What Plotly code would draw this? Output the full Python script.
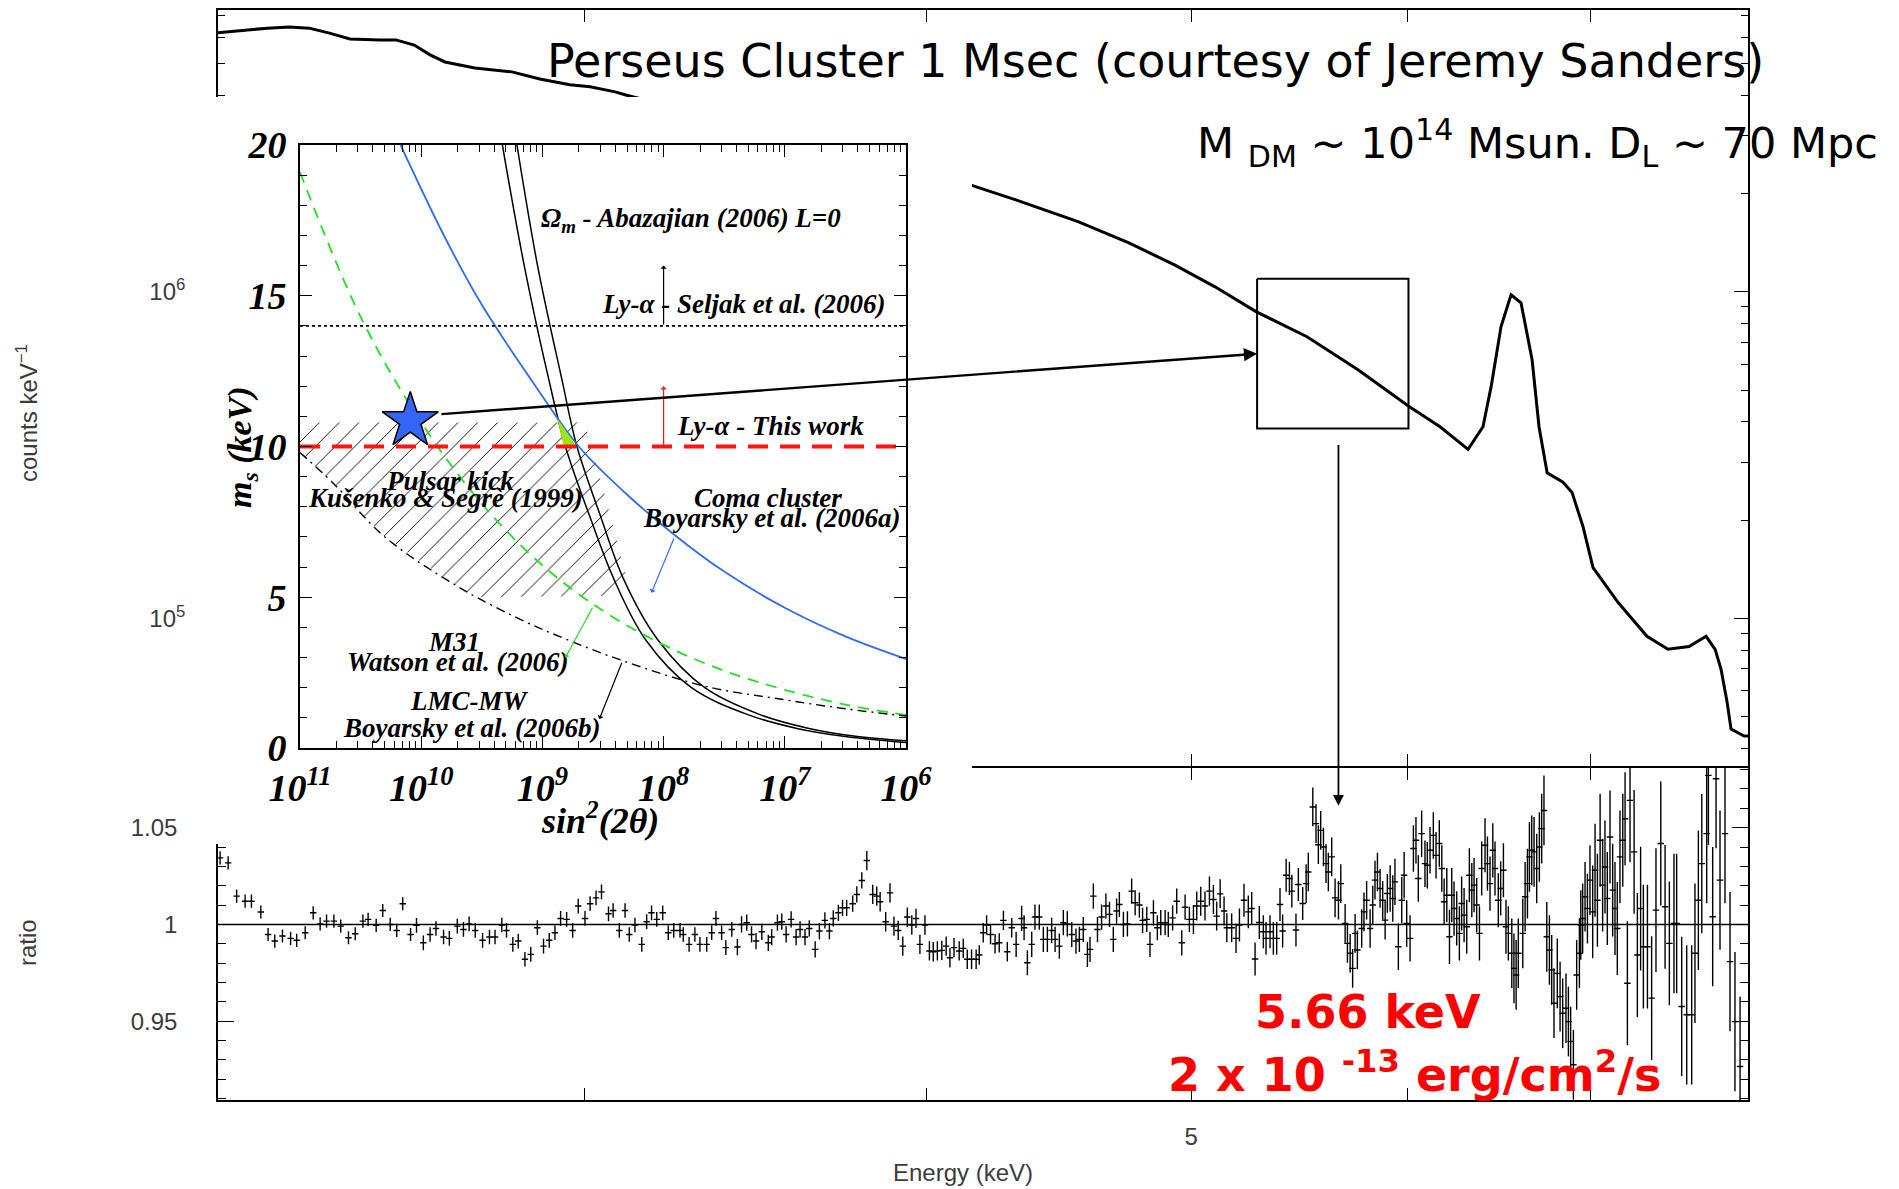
import math
import plotly.graph_objects as go

W, H = 1899, 1189

# ---------------- panel geometry (pixels) ----------------
SPEC_L, SPEC_R, SPEC_T, SPEC_B = 218, 1748, 10, 766.2
RAT_T, RAT_B = 767.8, 1100
INS_L, INS_R, INS_T, INS_B = 300, 906, 145, 748
COV_L, COV_R, COV_T, COV_B = 212, 972, 97, 844
COV_NOTCH_X, COV_NOTCH_Y = 936, 760   # the backing is narrower below this height

E_RANGE = (2.2021, 7.9923)          # keV
C_RANGE = (10 ** 4.5474, 10 ** 6.8624)  # counts keV^-1
R_RANGE = (0.90928, 1.08093)        # data / model
S_RANGE = (1e-11, 1e-6)             # sin^2(2 theta)
M_RANGE = (0.0, 20.0)               # m_s [keV]

# ---------------- spectrum: counts keV^-1 ----------------
spec_lo_e = [2.193, 2.234, 2.296, 2.338, 2.378, 2.419, 2.461, 2.524, 2.558, 2.598,
             2.633, 2.666, 2.734, 2.821, 2.888, 2.962, 3.013, 3.077, 3.105, 3.20]
spec_lo_c = [6.19e6, 6.28e6, 6.41e6, 6.46e6, 6.41e6, 6.19e6, 5.94e6, 5.90e6, 5.90e6, 5.69e6,
             5.31e6, 5.05e6, 4.84e6, 4.71e6, 4.48e6, 4.30e6, 4.24e6, 4.09e6, 4.00e6, 3.75e6]
spec_hi_e = [4.08, 4.153, 4.313, 4.545, 4.744, 4.928, 5.101, 5.280, 5.512, 5.754,
             6.007, 6.166, 6.313, 6.393, 6.437, 6.491, 6.546, 6.601, 6.663, 6.702,
             6.748, 6.839, 6.891, 6.955, 7.014, 7.163, 7.340, 7.471, 7.605, 7.715,
             7.774, 7.813, 7.852, 7.879, 7.966, 8.0]
spec_hi_c = [2.2e6, 2.12e6, 1.91e6, 1.64e6, 1.41e6, 1.21e6, 1.035e6, 8.69e5, 7.28e5, 5.77e5,
             4.45e5, 3.86e5, 3.29e5, 3.86e5, 5.12e5, 7.82e5, 9.79e5, 9.25e5, 6.19e5, 3.86e5,
             2.79e5, 2.61e5, 2.43e5, 1.91e5, 1.43e5, 1.12e5, 8.81e4, 8.04e4, 8.20e4, 8.81e4,
             8.04e4, 6.98e4, 5.57e4, 4.58e4, 4.36e4, 4.36e4]

# zoom window on the spectrum (keV, counts keV^-1)
box_e = (5.285, 6.004)
box_c = (3.81e5, 1.096e6)
line_e = 5.66  # keV, candidate line energy

# ---------------- ratio (data/model) ----------------
ratio_points = [
    (2.206, 1.0344), (2.221, 1.0318), (2.237, 1.0146), (2.253, 1.0120), (2.265, 1.0120),
    (2.283, 1.0064), (2.297, 0.9948), (2.310, 0.9914), (2.325, 0.9940), (2.341, 0.9928),
    (2.353, 0.9918), (2.370, 0.9957), (2.386, 1.0060), (2.400, 1.0003), (2.413, 1.0017),
    (2.428, 1.0017), (2.442, 0.9991), (2.458, 0.9931), (2.472, 0.9952), (2.488, 1.0017),
    (2.499, 1.0026), (2.516, 0.9995), (2.530, 1.0072), (2.546, 1.0000), (2.560, 0.9969),
    (2.573, 1.0107), (2.590, 0.9948), (2.603, 0.9995), (2.618, 0.9905), (2.633, 0.9948),
    (2.646, 0.9979), (2.663, 0.9935), (2.676, 0.9928), (2.694, 0.9991), (2.708, 0.9974),
    (2.721, 1.0003), (2.735, 0.9969), (2.752, 0.9918), (2.768, 0.9935), (2.781, 0.9935),
    (2.797, 0.9997), (2.808, 0.9969), (2.823, 0.9897), (2.836, 0.9914), (2.852, 0.9820),
    (2.866, 0.9845), (2.882, 0.9983), (2.897, 0.9888), (2.911, 0.9918), (2.925, 0.9957),
    (2.939, 1.0031), (2.954, 1.0026), (2.969, 0.9969), (2.983, 1.0095), (3.000, 1.0031),
    (3.013, 1.0107), (3.028, 1.0137), (3.042, 1.0168), (3.060, 1.0055), (3.072, 1.0072),
    (3.088, 0.9969), (3.103, 1.0072), (3.114, 0.9948), (3.129, 0.9997), (3.147, 0.9897),
    (3.160, 1.0014), (3.173, 1.0060), (3.187, 1.0026), (3.203, 1.0060), (3.218, 0.9957),
    (3.233, 0.9969), (3.250, 0.9969), (3.259, 0.9948), (3.275, 0.9897), (3.291, 0.9948),
    (3.305, 0.9897), (3.324, 0.9897), (3.338, 0.9957), (3.350, 1.0031), (3.366, 0.9957),
    (3.378, 0.9880),
    (3.395, 0.9974), (3.411, 0.9883), (3.423, 1.0000), (3.438, 1.0009), (3.452, 0.9948),
    (3.465, 0.9914), (3.482, 0.9962), (3.501, 0.9905), (3.511, 0.9935), (3.528, 1.0009),
    (3.541, 1.0014), (3.554, 0.9948), (3.569, 1.0026), (3.584, 0.9935), (3.596, 0.9974),
    (3.611, 0.9935), (3.624, 0.9979), (3.642, 0.9871), (3.655, 0.9966), (3.672, 1.0021),
    (3.686, 0.9966), (3.698, 1.0031), (3.714, 1.0060), (3.727, 1.0086), (3.740, 1.0086),
    (3.759, 1.0107), (3.772, 1.0155), (3.788, 1.0227), (3.804, 1.0330), (3.823, 1.0155),
    (3.836, 1.0146), (3.847, 1.0117), (3.865, 1.0014), (3.879, 1.0163), (3.892, 0.9991),
    (3.906, 0.9969), (3.921, 0.9888), (3.936, 1.0038), (3.951, 0.9997), (3.965, 1.0031),
    (3.978, 0.9897), (3.995, 0.9997), (4.010, 0.9863), (4.023, 0.9859), (4.037, 0.9863),
    (4.052, 0.9866), (4.067, 0.9888), (4.080, 0.9828), (4.094, 0.9880), (4.112, 0.9863),
    (4.126, 0.9876), (4.140, 0.9820), (4.155, 0.9820), (4.171, 0.9820), (4.182, 0.9842),
    (4.196, 0.9957), (4.208, 0.9997), (4.222, 0.9948), (4.238, 0.9900), (4.253, 0.9905),
    (4.268, 1.0021), (4.282, 0.9859), (4.298, 0.9983), (4.314, 0.9897), (4.334, 1.0031),
    (4.343, 0.9983), (4.355, 0.9802), (4.371, 0.9897), (4.383, 1.0038), (4.399, 1.0038),
    (4.414, 0.9923), (4.429, 0.9923), (4.445, 0.9969), (4.458, 0.9923), (4.474, 0.9888),
    (4.489, 1.0009), (4.504, 1.0003), (4.521, 0.9948), (4.537, 0.9914), (4.550, 0.9923),
    (4.565, 0.9974), (4.581, 0.9845), (4.591, 0.9871), (4.604, 1.0146), (4.620, 0.9974),
    (4.636, 1.0038), (4.653, 1.0095), (4.667, 1.0052), (4.682, 0.9923), (4.695, 1.0069),
    (4.706, 1.0103), (4.722, 1.0000), (4.738, 1.0003), (4.755, 1.0172), (4.769, 1.0112),
    (4.786, 1.0100), (4.799, 1.0021), (4.816, 1.0026), (4.829, 0.9897), (4.843, 1.0060),
    (4.859, 0.9983), (4.873, 1.0009), (4.891, 1.0009), (4.904, 1.0000), (4.922, 1.0034),
    (4.939, 1.0120), (4.960, 0.9905), (4.974, 1.0089), (4.992, 1.0026), (5.009, 1.0026),
    (5.023, 1.0095), (5.040, 1.0120), (5.058, 1.0095), (5.077, 1.0172), (5.094, 1.0129),
    (5.108, 1.0043), (5.123, 1.0158), (5.140, 1.0069), (5.152, 0.9983),
    (5.173, 0.9983), (5.192, 0.9928), (5.207, 0.9997), (5.227, 1.0125), (5.246, 1.0065),
    (5.261, 1.0082), (5.276, 0.9821), (5.295, 1.0010), (5.313, 0.9962), (5.325, 0.9928),
    (5.343, 0.9962), (5.358, 0.9928), (5.373, 0.9928), (5.388, 1.0103), (5.400, 0.9966),
    (5.416, 1.0254), (5.431, 1.0237), (5.442, 1.0172), (5.461, 0.9971), (5.472, 1.0206),
    (5.492, 1.0108), (5.508, 1.0211), (5.518, 1.0271), (5.539, 1.0607), (5.554, 1.0521),
    (5.565, 1.0412), (5.576, 1.0486), (5.589, 1.0400), (5.601, 1.0314), (5.612, 1.0271),
    (5.628, 1.0349), (5.644, 1.0137), (5.660, 1.0125), (5.671, 1.0211), (5.692, 1.0005),
    (5.703, 0.9902), (5.716, 0.9851), (5.728, 0.9773), (5.740, 0.9954), (5.751, 0.9868),
    (5.772, 0.9979), (5.783, 1.0065), (5.796, 1.0125), (5.813, 0.9979), (5.826, 1.0100),
    (5.837, 1.0229), (5.849, 1.0271), (5.862, 1.0186), (5.875, 1.0125), (5.887, 1.0022),
    (5.898, 1.0160), (5.912, 1.0186), (5.925, 1.0134), (5.936, 1.0220), (5.953, 0.9885),
    (5.970, 1.0125), (5.982, 1.0254), (5.995, 1.0005), (6.012, 0.9928), (6.029, 1.0392),
    (6.042, 1.0435), (6.054, 1.0237), (6.071, 1.0469), (6.088, 1.0314), (6.100, 1.0306),
    (6.114, 1.0383), (6.131, 1.0460), (6.145, 1.0357), (6.162, 1.0418), (6.175, 1.0289),
    (6.187, 1.0117), (6.201, 1.0151), (6.215, 0.9936), (6.227, 1.0151), (6.239, 1.0082),
    (6.253, 1.0031), (6.267, 0.9954), (6.279, 1.0108), (6.292, 1.0048), (6.306, 0.9988),
    (6.320, 1.0254), (6.333, 1.0177), (6.345, 1.0203), (6.359, 1.0100), (6.374, 0.9954),
    (6.386, 1.0289), (6.404, 1.0409), (6.417, 1.0314), (6.431, 1.0211), (6.446, 1.0383),
    (6.458, 1.0289), (6.476, 1.0125), (6.489, 1.0186), (6.504, 1.0280), (6.518, 0.9988),
    (6.531, 0.9954), (6.550, 0.9851), (6.562, 0.9773), (6.574, 0.9739), (6.586, 0.9851),
    (6.611, 0.9954), (6.624, 1.0143), (6.637, 1.0211), (6.648, 1.0349), (6.661, 1.0383),
    (6.674, 1.0375), (6.689, 1.0289), (6.704, 1.0400), (6.717, 1.0495), (6.730, 1.0589),
    (6.746, 0.9936), (6.761, 0.9868), (6.774, 0.9765), (6.787, 0.9593), (6.806, 0.9747),
    (6.822, 0.9627), (6.837, 0.9541), (6.856, 0.9567), (6.870, 0.9498), (6.883, 0.9395),
    (6.899, 0.9275), (6.918, 0.9739), (6.934, 0.9851), (6.942, 0.9997), (6.953, 1.0031),
    (6.967, 1.0143), (6.981, 1.0082), (6.996, 1.0229), (7.012, 1.0065), (7.026, 1.0280),
    (7.040, 1.0125), (7.056, 1.0435), (7.071, 1.0203), (7.085, 1.0297), (7.099, 1.0134),
    (7.115, 1.0452), (7.131, 1.0177), (7.145, 1.0082), (7.159, 0.9979), (7.175, 1.0349),
    (7.192, 1.0435), (7.206, 1.0546), (7.220, 0.9696), (7.236, 1.0641), (7.261, 1.0375),
    (7.281, 0.9842), (7.301, 1.0082), (7.318, 0.9885), (7.343, 0.9885), (7.369, 0.9619),
    (7.396, 1.0074), (7.426, 1.0418), (7.453, 1.0091), (7.480, 0.9902), (7.509, 1.0005),
    (7.526, 1.0005), (7.558, 0.9576), (7.590, 0.9533), (7.622, 0.9533), (7.643, 0.9851),
    (7.665, 1.0125), (7.687, 1.0314), (7.719, 1.0469), (7.730, 1.0770), (7.758, 1.0040),
    (7.780, 1.0753), (7.806, 1.0229), (7.839, 1.0469), (7.872, 0.9808), (7.905, 0.9498),
    (7.939, 0.9266),
]
# half-height of the ratio error bars per energy band (band lower edges in keV)
err_band_e = [2.2, 2.6, 3.4, 3.8, 4.3, 5.0, 5.2, 5.5, 5.9, 6.2, 6.55, 7.0, 7.22, 7.5]
err_band_half = [0.0034, 0.0038, 0.0042, 0.005, 0.0065, 0.0075, 0.0085, 0.010, 0.012,
                 0.014, 0.018, 0.024, 0.032, 0.036]

# ---------------- inset: sterile neutrino constraints ----------------
# curves given as (log10 sin^2(2theta), m_s [keV])
coma_logs = [-10.17, -9.8, -9.5, -9.09, -8.70, -8.3, -7.92, -7.5, -7.0, -6.5, -6.0]
coma_m = [20.0, 16.9, 14.7, 12.2, 10.0, 8.4, 7.1, 5.85, 4.65, 3.7, 2.95]
m31_logs = [-11.0, -10.5, -10.0, -9.5, -9.0, -8.5, -8.0, -7.5, -7.0, -6.5, -6.0]
m31_m = [19.1, 14.3, 10.8, 8.1, 6.06, 4.55, 3.42, 2.56, 1.93, 1.44, 1.09]
lmc_logs = [-11.0, -10.73, -10.3, -9.7, -9.2, -8.8, -8.34, -7.66, -7.0, -6.5, -6.0]
lmc_m = [9.8, 8.8, 7.0, 5.36, 4.3, 3.6, 2.9, 2.05, 1.6, 1.3, 1.06]
omega_a_logs = [-9.33, -9.15, -8.946, -8.81, -8.62, -8.41, -8.15, -7.77, -7.3, -6.9, -6.5, -6.0]
omega_a_m = [20.0, 16.0, 12.2, 10.0, 7.8, 5.6, 3.6, 2.0, 1.1, 0.65, 0.38, 0.18]
omega_b_logs = [-9.21, -9.04, -8.838, -8.715, -8.53, -8.33, -8.05, -7.66, -7.2, -6.8, -6.4, -6.0]
omega_b_m = [20.0, 16.0, 12.2, 10.0, 7.8, 5.6, 3.6, 2.0, 1.1, 0.65, 0.38, 0.24]
lya_seljak_m = 14.0
lya_this_m = 10.0
pulsar_logs = [-11.0, -8.65, -8.52, -8.41, -8.30, -8.35, -9.55, -9.7, -10.3, -10.73, -11.0]
pulsar_m = [10.8, 10.8, 8.9, 7.24, 5.6, 5.05, 5.0, 5.36, 7.0, 8.8, 9.8]
allowed_logs = [-8.877, -8.717, -8.822]
allowed_m = [10.93, 10.0, 10.0]
star_logs, star_m = -10.09, 10.85

s_tick_exp = [-11, -10, -9, -8, -7, -6]
m_ticks = [0, 5, 10, 15, 20]


# ---------------- helpers ----------------
def xdom(l, r):
    return [l / W, r / W]


def ydom(t, b):
    return [1 - b / H, 1 - t / H]


def log_px(v, lo, hi, p0, p1):
    return p0 + (math.log10(v) - math.log10(lo)) / (math.log10(hi) - math.log10(lo)) * (p1 - p0)


def lin_px(v, lo, hi, p0, p1):
    return p0 + (v - lo) / (hi - lo) * (p1 - p0)


def spec_px(e, c):
    return log_px(e, *E_RANGE, SPEC_L, SPEC_R), log_px(c, *C_RANGE, SPEC_B, SPEC_T)


def ratio_px(e, r):
    return log_px(e, *E_RANGE, SPEC_L, SPEC_R), lin_px(r, *R_RANGE, RAT_B, RAT_T)


def inset_px(s, m):
    return log_px(s, *S_RANGE, INS_L, INS_R), lin_px(m, *M_RANGE, INS_B, INS_T)


def err_for(e):
    half = err_band_half[0]
    for edge, h in zip(err_band_e, err_band_half):
        if e >= edge:
            half = h
    return half


pow10 = lambda seq: [10 ** v for v in seq]

fig = go.Figure()

# ---- spectrum panel ----
for ex, cx in ((spec_lo_e, spec_lo_c), (spec_hi_e, spec_hi_c)):
    fig.add_trace(go.Scatter(x=ex, y=cx, mode="lines", line=dict(color="black", width=3),
                             xaxis="x", yaxis="y", hoverinfo="skip"))
fig.add_trace(go.Scatter(
    x=[box_e[0], box_e[1], box_e[1], box_e[0], box_e[0]],
    y=[box_c[1], box_c[1], box_c[0], box_c[0], box_c[1]],
    mode="lines", line=dict(color="black", width=2), xaxis="x", yaxis="y", hoverinfo="skip"))

# ---- ratio panel ----
r_e = [p[0] for p in ratio_points]
r_v = [p[1] for p in ratio_points]
fig.add_trace(go.Scatter(x=[E_RANGE[0], E_RANGE[1]], y=[1, 1], mode="lines",
                         line=dict(color="black", width=1.6), xaxis="x2", yaxis="y2",
                         hoverinfo="skip"))
fig.add_trace(go.Scatter(
    x=r_e, y=r_v, mode="markers", marker=dict(size=1, color="black"),
    error_y=dict(type="data", array=[err_for(e) for e in r_e], thickness=1.4, width=0,
                 color="black"),
    error_x=dict(type="percent", value=0.27, thickness=1.4, width=0, color="black"),
    xaxis="x2", yaxis="y2", hoverinfo="skip"))

# ---- white backing of the inset figure ----
nx = (COV_NOTCH_X - COV_L) / (COV_R - COV_L)
ny = (COV_B - COV_NOTCH_Y) / (COV_B - COV_T)
fig.add_trace(go.Scatter(x=[0, nx, nx, 1, 1, 0, 0], y=[0, 0, ny, ny, 1, 1, 0], fill="toself",
                         fillcolor="white", mode="lines", line=dict(width=0, color="white"),
                         xaxis="x3", yaxis="y3", hoverinfo="skip"))

# ---- inset ----
fig.add_trace(go.Scatter(
    x=pow10(pulsar_logs), y=pulsar_m, mode="lines", fill="toself",
    fillcolor="rgba(0,0,0,0)", line=dict(width=0, color="rgba(0,0,0,0)"),
    fillpattern=dict(shape="/", size=14, solidity=0.07, fgcolor="#111111",
                     bgcolor="rgba(0,0,0,0)"),
    xaxis="x4", yaxis="y4", hoverinfo="skip"))
ins_lines = [
    (omega_a_logs, omega_a_m, dict(color="black", width=1.5)),
    (omega_b_logs, omega_b_m, dict(color="black", width=1.5)),
    (coma_logs, coma_m, dict(color="#2f6cf0", width=1.8)),
    (m31_logs, m31_m, dict(color="#22e022", width=1.8, dash="11px,8px")),
    (lmc_logs, lmc_m, dict(color="black", width=1.4, dash="9px,5px,2px,5px")),
    ([-11, -6], [lya_seljak_m, lya_seljak_m], dict(color="black", width=1.6, dash="dot")),
]
for lx, ly, ls in ins_lines:
    fig.add_trace(go.Scatter(x=pow10(lx), y=ly, mode="lines", line=dict(shape="spline", **ls),
                             xaxis="x4", yaxis="y4", hoverinfo="skip"))
fig.add_trace(go.Scatter(x=pow10(allowed_logs) + [10 ** allowed_logs[0]],
                         y=allowed_m + [allowed_m[0]], fill="toself", fillcolor="#9be800",
                         mode="lines", line=dict(width=0, color="#9be800"),
                         xaxis="x4", yaxis="y4", hoverinfo="skip"))
fig.add_trace(go.Scatter(x=[1e-11, 1e-6], y=[lya_this_m, lya_this_m], mode="lines",
                         line=dict(color="#ff1414", width=4, dash="20px,12px"),
                         xaxis="x4", yaxis="y4", hoverinfo="skip"))
fig.add_trace(go.Scatter(x=[10 ** star_logs], y=[star_m], mode="markers",
                         marker=dict(symbol="star", size=42, color="#3366f5",
                                     line=dict(color="black", width=1.5)),
                         xaxis="x4", yaxis="y4", hoverinfo="skip"))

# ---------------- axes ----------------
xspec_font = dict(family="Liberation Sans", size=24, color="#3c3c3c")
serif_bi = dict(family="Liberation Serif", style="italic", weight="bold", color="black")
frame = dict(showline=True, linecolor="black", linewidth=1.6, mirror="ticks", ticks="inside",
             tickcolor="black", tickwidth=1.3, showgrid=False, zeroline=False,
             automargin=False)

e_ticks = [3, 4, 5, 6, 7]
c_minor = [k * 10 ** n for n in (4, 5, 6) for k in range(2, 10)
           if C_RANGE[0] <= k * 10 ** n <= C_RANGE[1]]
s_minor = [k * 10.0 ** n for n in range(-11, -6) for k in range(2, 10)]

fig.update_layout(
    template="none",
    width=W, height=H, margin=dict(l=0, r=0, t=0, b=0, pad=0, autoexpand=False),
    autosize=False, paper_bgcolor="white", plot_bgcolor="white", showlegend=False,
    xaxis=dict(domain=xdom(SPEC_L, SPEC_R), type="log",
               range=[math.log10(E_RANGE[0]), math.log10(E_RANGE[1])], anchor="y",
               tickmode="array", tickvals=e_ticks, ticktext=[""] * 5, ticklen=12, **frame),
    yaxis=dict(domain=ydom(SPEC_T, SPEC_B), type="log",
               range=[math.log10(C_RANGE[0]), math.log10(C_RANGE[1])], anchor="x",
               tickmode="array", tickvals=[1e5, 1e6],
               ticktext=["10<sup>5</sup>", "10<sup>6</sup>"], ticklen=14,
               minor=dict(tickmode="array", tickvals=c_minor, ticklen=7, ticks="inside",
                          tickcolor="black", tickwidth=1.2),
               tickfont=xspec_font, ticklabelstandoff=26, **frame),
    xaxis2=dict(domain=xdom(SPEC_L, SPEC_R), type="log",
                range=[math.log10(E_RANGE[0]), math.log10(E_RANGE[1])], anchor="y2",
                tickmode="array", tickvals=e_ticks, ticktext=["", "", "5", "", ""],
                ticklen=12, tickfont=xspec_font, ticklabelstandoff=14, **frame),
    yaxis2=dict(domain=ydom(RAT_T, RAT_B), range=list(R_RANGE), anchor="x2",
                tickmode="array", tickvals=[0.95, 1.0, 1.05], ticktext=["0.95", "1", "1.05"],
                ticklen=16,
                minor=dict(tickmode="array",
                           tickvals=[round(0.91 + 0.01 * i, 2) for i in range(18)],
                           ticklen=8, ticks="inside", tickcolor="black", tickwidth=1.2),
                tickfont=xspec_font, ticklabelstandoff=34, **frame),
    xaxis3=dict(domain=xdom(COV_L, COV_R), range=[0, 1], visible=False, anchor="y3",
                automargin=False),
    yaxis3=dict(domain=ydom(COV_T, COV_B), range=[0, 1], visible=False, anchor="x3",
                automargin=False),
    xaxis4=dict(domain=xdom(INS_L, INS_R), type="log", range=[-11, -6], anchor="y4",
                tickmode="array", tickvals=[10.0 ** k for k in s_tick_exp],
                ticktext=["10<sup>%d</sup>" % abs(k) for k in s_tick_exp], ticklen=12,
                minor=dict(tickmode="array", tickvals=s_minor, ticklen=7, ticks="inside",
                           tickcolor="black", tickwidth=1.2),
                tickfont=dict(size=38, **serif_bi), ticklabelstandoff=6, **frame),
    yaxis4=dict(domain=ydom(INS_T, INS_B), range=list(M_RANGE), anchor="x4",
                tickmode="array", tickvals=m_ticks, ticktext=[str(v) for v in m_ticks],
                ticklen=12,
                minor=dict(tickmode="array", tickvals=[v for v in range(1, 20) if v % 5],
                           ticklen=7, ticks="inside", tickcolor="black", tickwidth=1.2),
                tickfont=dict(size=38, **serif_bi), ticklabelstandoff=4, **frame),
)

# ---------------- annotations ----------------
ann = []


def text(px, py, s, font, xanchor="center", angle=0):
    ann.append(dict(x=px / W, y=1 - py / H, xref="paper", yref="paper", text=s,
                    showarrow=False, xanchor=xanchor, yanchor="middle", font=font,
                    textangle=angle))


def arrow(head, tail, color, width, head_style=2, size=1.0):
    ann.append(dict(x=head[0] / W, y=1 - head[1] / H, xref="paper", yref="paper",
                    ax=tail[0] - head[0], ay=tail[1] - head[1], axref="pixel", ayref="pixel",
                    text="", showarrow=True, arrowhead=head_style, arrowsize=size,
                    arrowwidth=width, arrowcolor=color, standoff=0, startstandoff=0))


text(1155, 61, "Perseus Cluster 1 Msec (courtesy of Jeremy Sanders)",
     dict(family="DejaVu Sans", size=46, color="black"))
text(1537, 143, "M <sub>DM</sub> ~ 10<sup>14</sup> Msun. D<sub>L</sub> ~ 70 Mpc",
     dict(family="DejaVu Sans", size=43, color="black"))
red = dict(family="DejaVu Sans", size=46, color="#ff0000", weight="bold")
text(1368, 1012, "5.66 keV", red)
text(1414, 1072, "2 x 10 <sup>-13</sup> erg/cm<sup>2</sup>/s", red)

text(27, 413, "counts keV<sup>−1</sup>", xspec_font, angle=-90)
text(27, 943, "ratio", xspec_font, angle=-90)
text(963, 1172, "Energy (keV)", xspec_font)

lab = dict(size=27, **serif_bi)
text(242, 447, "m<sub>s</sub> (keV)", dict(size=34, **serif_bi), angle=-90)
text(600, 819, "sin<sup>2</sup>(2θ)", dict(size=36, **serif_bi))
text(539, 220, "Ω<sub>m</sub> - Abazajian (2006) L=0", lab, xanchor="left")
text(600, 304, "Ly-α - Seljak et al. (2006)", lab, xanchor="left")
text(675, 426, "Ly-α - This work", lab, xanchor="left")
text(450, 481, "Pulsar kick", lab)
text(445, 498, "Kušenko & Segrè (1999)", lab)
text(768, 498, "Coma cluster", lab)
text(771, 518, "Boyarsky et al. (2006a)", lab)
text(454, 642, "M31", lab)
text(458, 662, "Watson et al. (2006)", lab)
text(469, 701, "LMC-MW", lab)
text(471, 728, "Boyarsky et al. (2006b)", lab)

# constraint arrows inside the inset
arrow(inset_px(1e-8, 16.0), inset_px(1e-8, lya_seljak_m), "black", 1.2, 1, 0.9)
arrow(inset_px(1e-8, 12.0), inset_px(1e-8, lya_this_m), "#ff1414", 1.2, 1, 0.9)
arrow(inset_px(10 ** -8.10, 5.15), inset_px(10 ** -7.91, 7.0), "#2f6cf0", 1.2, 1, 0.9)
arrow(inset_px(10 ** -8.81, 3.0), inset_px(10 ** -8.58, 4.7), "#22e022", 1.2, 1, 0.9)
arrow(inset_px(10 ** -8.53, 0.96), inset_px(10 ** -8.34, 2.88), "black", 1.2, 1, 0.9)

# star -> zoom window, zoom window -> residual
arrow(spec_px(box_e[0], 6.46e5), inset_px(10 ** -9.845, 11.07), "black", 2.4, 2, 1.1)
arrow(ratio_px(line_e, 1.0613), spec_px(line_e, 3.43e5), "black", 1.8, 2, 1.2)

fig.update_layout(annotations=ann)
fig.write_html("out.html")
